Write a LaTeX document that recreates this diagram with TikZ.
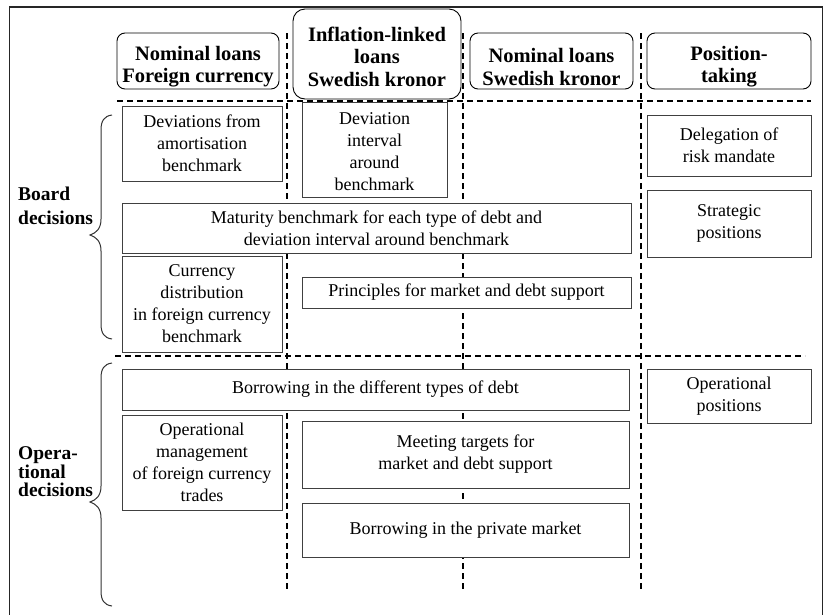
\documentclass[tikz,border=0pt]{standalone}
\usepackage{fontspec}
\setmainfont{Liberation Serif}
\newcommand{\toppad}[1]{\rule{0pt}{#1}}
\begin{document}
\begin{tikzpicture}[x=1pt,y=-1pt,
  box/.style={draw=black!75, line width=0.9pt, fill=white, align=center, inner sep=0pt, font=\fontsize{18}{22}\selectfont},
  head/.style={draw=black, line width=0.9pt, fill=white, rounded corners=8pt, align=center, inner sep=0pt, font=\bfseries\fontsize{20.5}{22.5}\selectfont},
  sep/.style={dash pattern=on 6pt off 4pt, line width=1.6pt},
  lab/.style={anchor=west, align=left, inner sep=0pt, font=\bfseries\fontsize{19.5}{24}\selectfont},
  bracepath/.style={line width=1pt, black!80}]
\useasboundingbox (0,0) rectangle (827,614);
\clip (0,0) rectangle (827,614);
% frame
\coordinate (fbl) at (9.5,640);
\coordinate (ftl) at (9.5,7);
\coordinate (ftr) at (822.5,7);
\coordinate (fbr) at (822.5,640);
\draw[line width=1.6pt, black!85] (fbl) -- (ftl) -- (ftr) -- (fbr);
% dashed separators
\coordinate (v1t) at (287,33); \coordinate (v1b) at (287,592);
\coordinate (v2t) at (463,33); \coordinate (v2b) at (463,592);
\coordinate (v3t) at (641,33); \coordinate (v3b) at (641,592);
\coordinate (h1l) at (117,101); \coordinate (h1r) at (811,101);
\coordinate (h2l) at (115,356); \coordinate (h2r) at (805,356);
\draw[sep] (v1t) -- (v1b);
\draw[sep] (v2t) -- (v2b);
\draw[sep] (v3t) -- (v3b);
\draw[sep] (h1l) -- (h1r);
\draw[sep] (h2l) -- (h2r);
% headers
\node[head, minimum width=162pt, minimum height=56pt] (hfc) at (198,61) {\toppad{26pt}Nominal loans\\Foreign currency};
\node[head, rounded corners=12pt, minimum width=168pt, minimum height=90pt] (hil) at (377,54) {\toppad{20pt}Inflation-linked\\loans\\Swedish kronor};
\node[head, minimum width=163pt, minimum height=56pt] (hsk) at (551.5,61) {\toppad{26pt}Nominal loans\\Swedish kronor};
\node[head, minimum width=164pt, minimum height=56pt] (hpt) at (729,61) {\toppad{26pt}Position-\\taking};
% board decision boxes
\node[box, minimum width=160pt, minimum height=75pt] (b1) at (202,143.5) {Deviations from\\amortisation\\benchmark};
\node[box, minimum width=145pt, minimum height=95pt] (b2) at (374.5,149.5) {\toppad{17pt}Deviation\\interval\\around\\benchmark};
\node[box, minimum width=164pt, minimum height=61pt] (b3) at (729,145.5) {Delegation of\\risk mandate};
\node[box, minimum width=164pt, minimum height=67pt] (b4) at (729,223.5) {Strategic\\positions};
\node[box, minimum width=509pt, minimum height=50pt] (b5) at (376.5,228) {Maturity benchmark for each type of debt and\\deviation interval around benchmark};
\node[box, minimum width=160pt, minimum height=96pt] (b6) at (202,304) {Currency\\distribution\\in foreign currency\\benchmark};
\node[box, minimum width=329pt, minimum height=31pt] (b7) at (466.5,292.5) {Principles for market and debt support};
% operational boxes
\node[box, minimum width=507pt, minimum height=41pt] (b8) at (375.5,389.5) {Borrowing in the different types of debt};
\node[box, minimum width=164pt, minimum height=54pt] (b9) at (729,396) {Operational\\positions};
\node[box, minimum width=160pt, minimum height=95pt] (b10) at (202,462.5) {Operational\\management\\of foreign currency\\trades};
\node[box, minimum width=327pt, minimum height=67pt] (b11) at (465.5,454.5) {Meeting targets for\\market and debt support};
\node[box, minimum width=327pt, minimum height=54pt] (b12) at (465.5,530) {Borrowing in the private market};
% labels
\node[lab] (lboard) at (18,206) {Board\\decisions};
\node[lab, font=\bfseries\fontsize{19.5}{18.5}\selectfont] (lop) at (18,472) {Opera-\\tional\\decisions};
% braces
\draw[bracepath] (112,115) .. controls (104,116) and (101,121) .. (101,130) -- (101,219)
  .. controls (101,229) and (96,233) .. (90,235)
  .. controls (96,237) and (101,241) .. (101,251) -- (101,324)
  .. controls (101,333) and (104,338) .. (112,339);
\draw[bracepath] (112,363) .. controls (104,364) and (101,369) .. (101,378) -- (101,486)
  .. controls (101,496) and (96,500) .. (90,502)
  .. controls (96,504) and (101,508) .. (101,518) -- (101,591)
  .. controls (101,600) and (104,605) .. (112,606);
\end{tikzpicture}
\end{document}
